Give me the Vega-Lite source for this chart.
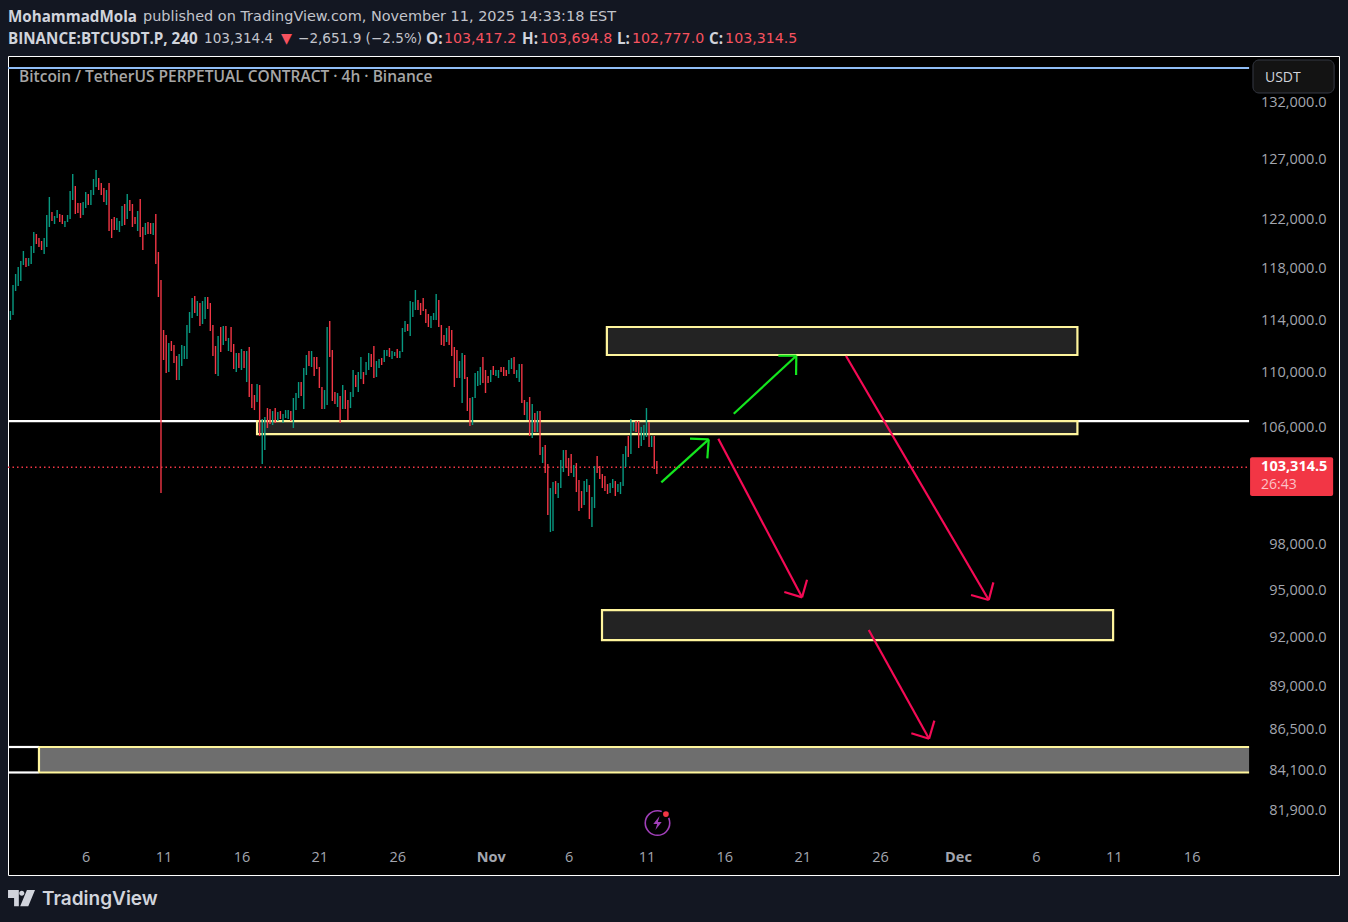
{
"$schema":"https://vega.github.io/schema/vega-lite/v6.json",
"width":1331,"height":819,
"autosize":"none",
"padding":{"left":8,"top":56,"right":9,"bottom":47},
"background":"#131722",
"config":{"view":{"fill":"#000000","stroke":"#ffffff","strokeWidth":1},"text":{"font":"Open Sans"}},
"encoding":{
"x":{"field":"t","type":"temporal","title":null,
"scale":{"type":"utc","domain":["2025-10-01T00:17Z","2025-12-25T11:02Z"]},
"axis":{"orient":"bottom","values":["2025-10-06T00:00Z","2025-10-11T00:00Z","2025-10-16T00:00Z","2025-10-21T00:00Z","2025-10-26T00:00Z","2025-11-01T00:00Z","2025-11-06T00:00Z","2025-11-11T00:00Z","2025-11-16T00:00Z","2025-11-21T00:00Z","2025-11-26T00:00Z","2025-12-01T00:00Z","2025-12-06T00:00Z","2025-12-11T00:00Z","2025-12-16T00:00Z"],
"labelExpr":"utcdate(datum.value)==1 ? utcFormat(datum.value,'%b') : utcFormat(datum.value,'%-d')",
"labelFontWeight":{"expr":"utcdate(datum.value)==1 ? 'bold' : 'normal'"},
"labelPadding":-18,"labelBaseline":"middle","labelFont":"Open Sans","labelFontSize":14.5,"labelColor":"#a3a6af","labelOverlap":false,"labelFlush":false,"labelBound":false,"domain":false,"ticks":false,"grid":false}},
"y":{"field":"p","type":"quantitative","title":null,
"scale":{"type":"log","domain":[78390,136233],"nice":false,"zero":false},
"axis":{"orient":"right","values":[132000,127000,122000,118000,114000,110000,106000,98000,95000,92000,89000,86500,84100,81900],"format":",.1f","labelAlign":"right","labelBaseline":"middle","labelPadding":-13,"labelFont":"Open Sans","labelFontSize":14.5,"labelColor":"#a3a6af","labelOverlap":false,"labelFlush":false,"labelBound":false,"domain":false,"ticks":false,"grid":false}}
},
"layer":[
{"data":{"values":[{"t":"2025-10-01T00:17Z","t2":"2025-12-19T16:30Z","p":135136}]},"mark":{"type":"rule","color":"#8fbcf5","strokeWidth":2},"encoding":{"x2":{"field":"t2"}}},
{"data":{"values":[{"t":"2025-10-01T00:17Z","t2":"2025-12-19T16:30Z","p":106489},{"t":"2025-10-01T00:17Z","t2":"2025-10-03T00:00Z","p":85462},{"t":"2025-10-01T00:17Z","t2":"2025-10-03T00:00Z","p":84005}]},"mark":{"type":"rule","color":"#ffffff","strokeWidth":2.2},"encoding":{"x2":{"field":"t2"}}},
{"data":{"values":[{"t":"2025-10-01T00:17Z","t2":"2025-12-19T18:00Z","p":103314.5}]},"mark":{"type":"rule","color":"#f23645","strokeWidth":1.4,"strokeDash":[1.5,3],"yOffset":1.3},"encoding":{"x2":{"field":"t2"}}},
{"data":{"values":[{"t":"2025-10-03T00:00Z","t2":"2025-12-19T16:30Z","p":85462,"p2":84005}]},"mark":{"type":"rect","color":"#6e6e6e"},"encoding":{"x2":{"field":"t2"},"y2":{"field":"p2"}}},
{"data":{"values":[{"t":"2025-10-03T00:00Z","t2":"2025-12-19T16:30Z","p":85462},{"t":"2025-10-03T00:00Z","t2":"2025-12-19T16:30Z","p":84005}]},"mark":{"type":"rule","color":"#fff59d","strokeWidth":2.2},"encoding":{"x2":{"field":"t2"}}},
{"data":{"values":[{"t":"2025-10-03T00:00Z","p":85462,"p2":84005}]},"mark":{"type":"rule","color":"#fff59d","strokeWidth":2.2},"encoding":{"y2":{"field":"p2"}}},
{"data":{"values":[{"t":"2025-11-08T11:00Z","t2":"2025-12-08T16:00Z","p":113464,"p2":111340},{"t":"2025-10-17T00:00Z","t2":"2025-12-08T16:00Z","p":106489,"p2":105559},{"t":"2025-11-08T03:30Z","t2":"2025-12-10T23:00Z","p":93738,"p2":91859}]},"mark":{"type":"rect","fill":"#232323","stroke":"#fff59d","strokeWidth":2.2},"encoding":{"x2":{"field":"t2"},"y2":{"field":"p2"}}},
{"data":{"values":[
{"t":"2025-10-01T04:00Z","p":114700,"p2":114000,"d":"u"},{"t":"2025-10-01T08:00Z","p":116730,"p2":114390,"d":"u"},{"t":"2025-10-01T12:00Z","p":117597,"p2":116254,"d":"u"},{"t":"2025-10-01T16:00Z","p":118150,"p2":116647,"d":"u"},{"t":"2025-10-01T20:00Z","p":118632,"p2":117041,"d":"u"},
{"t":"2025-10-02T00:00Z","p":119436,"p2":118312,"d":"u"},{"t":"2025-10-02T04:00Z","p":118873,"p2":118150,"d":"d"},{"t":"2025-10-02T08:00Z","p":118873,"p2":118230,"d":"u"},{"t":"2025-10-02T12:00Z","p":119840,"p2":118392,"d":"u"},{"t":"2025-10-02T16:00Z","p":120977,"p2":119275,"d":"u"},{"t":"2025-10-02T20:00Z","p":120814,"p2":120003,"d":"d"},
{"t":"2025-10-03T00:00Z","p":120488,"p2":119758,"d":"d"},{"t":"2025-10-03T04:00Z","p":120244,"p2":119516,"d":"d"},{"t":"2025-10-03T08:00Z","p":120488,"p2":119194,"d":"u"},{"t":"2025-10-03T12:00Z","p":122373,"p2":119758,"d":"u"},{"t":"2025-10-03T16:00Z","p":123869,"p2":121386,"d":"u"},{"t":"2025-10-03T20:00Z","p":122620,"p2":121878,"d":"d"},
{"t":"2025-10-04T00:00Z","p":122290,"p2":121632,"d":"u"},{"t":"2025-10-04T04:00Z","p":122786,"p2":122124,"d":"u"},{"t":"2025-10-04T08:00Z","p":122455,"p2":121796,"d":"d"},{"t":"2025-10-04T12:00Z","p":122373,"p2":121632,"d":"d"},{"t":"2025-10-04T16:00Z","p":121878,"p2":121386,"d":"u"},{"t":"2025-10-04T20:00Z","p":122373,"p2":121796,"d":"u"},
{"t":"2025-10-05T00:00Z","p":124371,"p2":122042,"d":"u"},{"t":"2025-10-05T04:00Z","p":125806,"p2":123618,"d":"u"},{"t":"2025-10-05T08:00Z","p":124792,"p2":122455,"d":"d"},{"t":"2025-10-05T12:00Z","p":123368,"p2":122538,"d":"d"},{"t":"2025-10-05T16:00Z","p":123368,"p2":122124,"d":"d"},{"t":"2025-10-05T20:00Z","p":123451,"p2":122373,"d":"u"},
{"t":"2025-10-06T00:00Z","p":124287,"p2":122952,"d":"u"},{"t":"2025-10-06T04:00Z","p":124120,"p2":123202,"d":"d"},{"t":"2025-10-06T08:00Z","p":124455,"p2":123202,"d":"u"},{"t":"2025-10-06T12:00Z","p":125382,"p2":124036,"d":"u"},{"t":"2025-10-06T16:00Z","p":126146,"p2":124708,"d":"u"},{"t":"2025-10-06T20:00Z","p":125467,"p2":124455,"d":"d"},
{"t":"2025-10-07T00:00Z","p":125044,"p2":124036,"d":"d"},{"t":"2025-10-07T04:00Z","p":124624,"p2":123451,"d":"d"},{"t":"2025-10-07T08:00Z","p":124455,"p2":123202,"d":"u"},{"t":"2025-10-07T12:00Z","p":125044,"p2":121058,"d":"d"},{"t":"2025-10-07T16:00Z","p":122042,"p2":120488,"d":"d"},{"t":"2025-10-07T20:00Z","p":122207,"p2":121140,"d":"d"},
{"t":"2025-10-08T00:00Z","p":122124,"p2":121140,"d":"u"},{"t":"2025-10-08T04:00Z","p":121878,"p2":120977,"d":"u"},{"t":"2025-10-08T08:00Z","p":123119,"p2":121468,"d":"u"},{"t":"2025-10-08T12:00Z","p":123285,"p2":121550,"d":"d"},{"t":"2025-10-08T16:00Z","p":124120,"p2":122042,"d":"u"},{"t":"2025-10-08T20:00Z","p":123618,"p2":122703,"d":"d"},
{"t":"2025-10-09T00:00Z","p":123285,"p2":121386,"d":"d"},{"t":"2025-10-09T04:00Z","p":122207,"p2":121632,"d":"d"},{"t":"2025-10-09T08:00Z","p":122703,"p2":121058,"d":"u"},{"t":"2025-10-09T12:00Z","p":123702,"p2":120570,"d":"d"},{"t":"2025-10-09T16:00Z","p":121386,"p2":119516,"d":"d"},{"t":"2025-10-09T20:00Z","p":121714,"p2":120732,"d":"u"},
{"t":"2025-10-10T00:00Z","p":121796,"p2":120814,"d":"d"},{"t":"2025-10-10T04:00Z","p":121714,"p2":120814,"d":"d"},{"t":"2025-10-10T08:00Z","p":121714,"p2":120732,"d":"u"},{"t":"2025-10-10T12:00Z","p":122455,"p2":118392,"d":"d"},{"t":"2025-10-10T16:00Z","p":119355,"p2":115784,"d":"d"},{"t":"2025-10-10T20:00Z","p":117120,"p2":101438,"d":"d"},
{"t":"2025-10-11T00:00Z","p":113234,"p2":110964,"d":"d"},{"t":"2025-10-11T04:00Z","p":112853,"p2":109995,"d":"d"},{"t":"2025-10-11T08:00Z","p":112245,"p2":110069,"d":"u"},{"t":"2025-10-11T12:00Z","p":112396,"p2":111641,"d":"d"},{"t":"2025-10-11T16:00Z","p":112094,"p2":110740,"d":"d"},{"t":"2025-10-11T20:00Z","p":111265,"p2":109476,"d":"d"},
{"t":"2025-10-12T00:00Z","p":111415,"p2":109476,"d":"u"},{"t":"2025-10-12T04:00Z","p":112094,"p2":110516,"d":"u"},{"t":"2025-10-12T08:00Z","p":112019,"p2":111039,"d":"u"},{"t":"2025-10-12T12:00Z","p":113617,"p2":111039,"d":"u"},{"t":"2025-10-12T16:00Z","p":114618,"p2":113005,"d":"u"},{"t":"2025-10-12T20:00Z","p":115706,"p2":114155,"d":"u"},
{"t":"2025-10-13T00:00Z","p":115862,"p2":114541,"d":"d"},{"t":"2025-10-13T04:00Z","p":115472,"p2":114310,"d":"u"},{"t":"2025-10-13T08:00Z","p":115317,"p2":113541,"d":"d"},{"t":"2025-10-13T12:00Z","p":115472,"p2":113694,"d":"u"},{"t":"2025-10-13T16:00Z","p":115784,"p2":114078,"d":"u"},{"t":"2025-10-13T20:00Z","p":115784,"p2":114850,"d":"d"},
{"t":"2025-10-14T00:00Z","p":115317,"p2":113158,"d":"d"},{"t":"2025-10-14T04:00Z","p":113617,"p2":111265,"d":"d"},{"t":"2025-10-14T08:00Z","p":112019,"p2":109921,"d":"d"},{"t":"2025-10-14T12:00Z","p":112777,"p2":109773,"d":"u"},{"t":"2025-10-14T16:00Z","p":113464,"p2":111566,"d":"d"},{"t":"2025-10-14T20:00Z","p":113541,"p2":112094,"d":"u"},
{"t":"2025-10-15T00:00Z","p":113541,"p2":112396,"d":"d"},{"t":"2025-10-15T04:00Z","p":112624,"p2":111641,"d":"u"},{"t":"2025-10-15T08:00Z","p":113464,"p2":111566,"d":"d"},{"t":"2025-10-15T12:00Z","p":112170,"p2":110292,"d":"d"},{"t":"2025-10-15T16:00Z","p":111490,"p2":110069,"d":"u"},{"t":"2025-10-15T20:00Z","p":111490,"p2":110366,"d":"d"},
{"t":"2025-10-16T00:00Z","p":111791,"p2":110218,"d":"u"},{"t":"2025-10-16T04:00Z","p":111641,"p2":110366,"d":"d"},{"t":"2025-10-16T08:00Z","p":111641,"p2":109328,"d":"u"},{"t":"2025-10-16T12:00Z","p":111942,"p2":108228,"d":"d"},{"t":"2025-10-16T16:00Z","p":109181,"p2":107427,"d":"d"},{"t":"2025-10-16T20:00Z","p":108374,"p2":107282,"d":"d"},
{"t":"2025-10-17T00:00Z","p":109181,"p2":107864,"d":"u"},{"t":"2025-10-17T04:00Z","p":109107,"p2":105417,"d":"d"},{"t":"2025-10-17T08:00Z","p":106633,"p2":103443,"d":"u"},{"t":"2025-10-17T12:00Z","p":106777,"p2":104425,"d":"u"},{"t":"2025-10-17T16:00Z","p":107427,"p2":105987,"d":"d"},{"t":"2025-10-17T20:00Z","p":107355,"p2":106274,"d":"d"},
{"t":"2025-10-18T00:00Z","p":107210,"p2":106203,"d":"u"},{"t":"2025-10-18T04:00Z","p":107427,"p2":106346,"d":"d"},{"t":"2025-10-18T08:00Z","p":107138,"p2":106489,"d":"u"},{"t":"2025-10-18T12:00Z","p":107210,"p2":106633,"d":"d"},{"t":"2025-10-18T16:00Z","p":106994,"p2":106346,"d":"u"},{"t":"2025-10-18T20:00Z","p":107282,"p2":106705,"d":"u"},
{"t":"2025-10-19T00:00Z","p":107282,"p2":106633,"d":"u"},{"t":"2025-10-19T04:00Z","p":107210,"p2":106489,"d":"d"},{"t":"2025-10-19T08:00Z","p":108155,"p2":105987,"d":"u"},{"t":"2025-10-19T12:00Z","p":108520,"p2":107282,"d":"u"},{"t":"2025-10-19T16:00Z","p":109328,"p2":108155,"d":"u"},{"t":"2025-10-19T20:00Z","p":109328,"p2":108301,"d":"d"},
{"t":"2025-10-20T00:00Z","p":110366,"p2":107355,"d":"u"},{"t":"2025-10-20T04:00Z","p":111340,"p2":109847,"d":"u"},{"t":"2025-10-20T08:00Z","p":111641,"p2":110516,"d":"d"},{"t":"2025-10-20T12:00Z","p":111641,"p2":110441,"d":"u"},{"t":"2025-10-20T16:00Z","p":111190,"p2":109773,"d":"d"},{"t":"2025-10-20T20:00Z","p":111190,"p2":110292,"d":"d"},
{"t":"2025-10-21T00:00Z","p":110441,"p2":108887,"d":"d"},{"t":"2025-10-21T04:00Z","p":108961,"p2":107355,"d":"d"},{"t":"2025-10-21T08:00Z","p":108740,"p2":107355,"d":"u"},{"t":"2025-10-21T12:00Z","p":113464,"p2":107645,"d":"u"},{"t":"2025-10-21T16:00Z","p":113924,"p2":111190,"d":"d"},{"t":"2025-10-21T20:00Z","p":111716,"p2":107936,"d":"d"},
{"t":"2025-10-22T00:00Z","p":108593,"p2":107718,"d":"d"},{"t":"2025-10-22T04:00Z","p":108520,"p2":107500,"d":"u"},{"t":"2025-10-22T08:00Z","p":108301,"p2":106346,"d":"d"},{"t":"2025-10-22T12:00Z","p":109107,"p2":107355,"d":"u"},{"t":"2025-10-22T16:00Z","p":108740,"p2":107355,"d":"d"},{"t":"2025-10-22T20:00Z","p":108009,"p2":106561,"d":"d"},
{"t":"2025-10-23T00:00Z","p":108593,"p2":107427,"d":"u"},{"t":"2025-10-23T04:00Z","p":110218,"p2":108228,"d":"u"},{"t":"2025-10-23T08:00Z","p":109847,"p2":108961,"d":"d"},{"t":"2025-10-23T12:00Z","p":110069,"p2":108593,"d":"u"},{"t":"2025-10-23T16:00Z","p":111190,"p2":109550,"d":"u"},{"t":"2025-10-23T20:00Z","p":110069,"p2":109181,"d":"d"},
{"t":"2025-10-24T00:00Z","p":110815,"p2":109847,"d":"u"},{"t":"2025-10-24T04:00Z","p":111490,"p2":110218,"d":"u"},{"t":"2025-10-24T08:00Z","p":111415,"p2":110441,"d":"d"},{"t":"2025-10-24T12:00Z","p":112019,"p2":109624,"d":"d"},{"t":"2025-10-24T16:00Z","p":110890,"p2":109699,"d":"u"},{"t":"2025-10-24T20:00Z","p":111039,"p2":110366,"d":"u"},
{"t":"2025-10-25T00:00Z","p":111115,"p2":110590,"d":"d"},{"t":"2025-10-25T04:00Z","p":111716,"p2":110815,"d":"u"},{"t":"2025-10-25T08:00Z","p":111716,"p2":111265,"d":"u"},{"t":"2025-10-25T12:00Z","p":111866,"p2":111190,"d":"d"},{"t":"2025-10-25T16:00Z","p":111641,"p2":111039,"d":"u"},{"t":"2025-10-25T20:00Z","p":111566,"p2":111265,"d":"u"},
{"t":"2025-10-26T00:00Z","p":111791,"p2":111115,"d":"d"},{"t":"2025-10-26T04:00Z","p":111641,"p2":111115,"d":"u"},{"t":"2025-10-26T08:00Z","p":113387,"p2":111566,"d":"u"},{"t":"2025-10-26T12:00Z","p":113924,"p2":113081,"d":"u"},{"t":"2025-10-26T16:00Z","p":113694,"p2":113158,"d":"d"},{"t":"2025-10-26T20:00Z","p":115472,"p2":112777,"d":"u"},
{"t":"2025-10-27T00:00Z","p":115394,"p2":114232,"d":"u"},{"t":"2025-10-27T04:00Z","p":116332,"p2":114773,"d":"u"},{"t":"2025-10-27T08:00Z","p":115550,"p2":114773,"d":"d"},{"t":"2025-10-27T12:00Z","p":115317,"p2":114387,"d":"d"},{"t":"2025-10-27T16:00Z","p":115706,"p2":114696,"d":"d"},{"t":"2025-10-27T20:00Z","p":114850,"p2":113770,"d":"d"},
{"t":"2025-10-28T00:00Z","p":114464,"p2":113464,"d":"d"},{"t":"2025-10-28T04:00Z","p":114310,"p2":113387,"d":"u"},{"t":"2025-10-28T08:00Z","p":114541,"p2":114001,"d":"u"},{"t":"2025-10-28T12:00Z","p":116020,"p2":114001,"d":"u"},{"t":"2025-10-28T16:00Z","p":115550,"p2":113464,"d":"d"},{"t":"2025-10-28T20:00Z","p":113617,"p2":112094,"d":"d"},
{"t":"2025-10-29T00:00Z","p":112853,"p2":112019,"d":"d"},{"t":"2025-10-29T04:00Z","p":113387,"p2":112321,"d":"u"},{"t":"2025-10-29T08:00Z","p":113541,"p2":112094,"d":"d"},{"t":"2025-10-29T12:00Z","p":113234,"p2":111265,"d":"d"},{"t":"2025-10-29T16:00Z","p":111942,"p2":108961,"d":"d"},{"t":"2025-10-29T20:00Z","p":111716,"p2":109624,"d":"d"},
{"t":"2025-10-30T00:00Z","p":110890,"p2":109624,"d":"u"},{"t":"2025-10-30T04:00Z","p":111490,"p2":107791,"d":"u"},{"t":"2025-10-30T08:00Z","p":111340,"p2":109550,"d":"d"},{"t":"2025-10-30T12:00Z","p":109699,"p2":107210,"d":"d"},{"t":"2025-10-30T16:00Z","p":108155,"p2":106130,"d":"d"},{"t":"2025-10-30T20:00Z","p":108228,"p2":106203,"d":"u"},
{"t":"2025-10-31T00:00Z","p":109995,"p2":108155,"d":"u"},{"t":"2025-10-31T04:00Z","p":110144,"p2":109035,"d":"u"},{"t":"2025-10-31T08:00Z","p":110441,"p2":109107,"d":"u"},{"t":"2025-10-31T12:00Z","p":111190,"p2":109255,"d":"d"},{"t":"2025-10-31T16:00Z","p":110218,"p2":108520,"d":"d"},{"t":"2025-10-31T20:00Z","p":109773,"p2":109255,"d":"d"},
{"t":"2025-11-01T00:00Z","p":110218,"p2":109328,"d":"u"},{"t":"2025-11-01T04:00Z","p":110516,"p2":109847,"d":"d"},{"t":"2025-11-01T08:00Z","p":110218,"p2":109773,"d":"u"},{"t":"2025-11-01T12:00Z","p":110218,"p2":109624,"d":"u"},{"t":"2025-11-01T16:00Z","p":110441,"p2":110069,"d":"d"},{"t":"2025-11-01T20:00Z","p":110441,"p2":109773,"d":"d"},
{"t":"2025-11-02T00:00Z","p":110218,"p2":109773,"d":"d"},{"t":"2025-11-02T04:00Z","p":110964,"p2":109921,"d":"u"},{"t":"2025-11-02T08:00Z","p":111115,"p2":110292,"d":"u"},{"t":"2025-11-02T12:00Z","p":111190,"p2":109921,"d":"d"},{"t":"2025-11-02T16:00Z","p":110218,"p2":109624,"d":"u"},{"t":"2025-11-02T20:00Z","p":110665,"p2":109328,"d":"u"},
{"t":"2025-11-03T00:00Z","p":110665,"p2":107791,"d":"d"},{"t":"2025-11-03T04:00Z","p":108009,"p2":106920,"d":"d"},{"t":"2025-11-03T08:00Z","p":107864,"p2":106561,"d":"u"},{"t":"2025-11-03T12:00Z","p":108228,"p2":105417,"d":"d"},{"t":"2025-11-03T16:00Z","p":107718,"p2":105275,"d":"u"},{"t":"2025-11-03T20:00Z","p":107066,"p2":105702,"d":"d"},
{"t":"2025-11-04T00:00Z","p":107210,"p2":105702,"d":"u"},{"t":"2025-11-04T04:00Z","p":107210,"p2":104073,"d":"d"},{"t":"2025-11-04T08:00Z","p":104637,"p2":103513,"d":"u"},{"t":"2025-11-04T12:00Z","p":104778,"p2":102817,"d":"d"},{"t":"2025-11-04T16:00Z","p":103443,"p2":99943,"d":"d"},{"t":"2025-11-04T20:00Z","p":101781,"p2":98803,"d":"u"},
{"t":"2025-11-05T00:00Z","p":102194,"p2":98870,"d":"u"},{"t":"2025-11-05T04:00Z","p":102263,"p2":101370,"d":"d"},{"t":"2025-11-05T08:00Z","p":102125,"p2":101097,"d":"u"},{"t":"2025-11-05T12:00Z","p":103722,"p2":101781,"d":"u"},{"t":"2025-11-05T16:00Z","p":104425,"p2":102886,"d":"u"},{"t":"2025-11-05T20:00Z","p":104425,"p2":103164,"d":"d"},
{"t":"2025-11-06T00:00Z","p":103862,"p2":102609,"d":"d"},{"t":"2025-11-06T04:00Z","p":104143,"p2":102817,"d":"d"},{"t":"2025-11-06T08:00Z","p":103373,"p2":102540,"d":"u"},{"t":"2025-11-06T12:00Z","p":103513,"p2":101507,"d":"d"},{"t":"2025-11-06T16:00Z","p":102332,"p2":100213,"d":"d"},{"t":"2025-11-06T20:00Z","p":101575,"p2":100416,"d":"d"},
{"t":"2025-11-07T00:00Z","p":102263,"p2":100621,"d":"u"},{"t":"2025-11-07T04:00Z","p":102401,"p2":101507,"d":"u"},{"t":"2025-11-07T08:00Z","p":101987,"p2":99673,"d":"d"},{"t":"2025-11-07T12:00Z","p":101165,"p2":99137,"d":"u"},{"t":"2025-11-07T16:00Z","p":103303,"p2":100416,"d":"u"},{"t":"2025-11-07T20:00Z","p":104002,"p2":102817,"d":"d"},
{"t":"2025-11-08T00:00Z","p":103303,"p2":102401,"d":"d"},{"t":"2025-11-08T04:00Z","p":102747,"p2":101781,"d":"d"},{"t":"2025-11-08T08:00Z","p":102609,"p2":101575,"d":"d"},{"t":"2025-11-08T12:00Z","p":102056,"p2":101370,"d":"d"},{"t":"2025-11-08T16:00Z","p":102125,"p2":101438,"d":"u"},{"t":"2025-11-08T20:00Z","p":102401,"p2":101781,"d":"u"},
{"t":"2025-11-09T00:00Z","p":102263,"p2":101233,"d":"d"},{"t":"2025-11-09T04:00Z","p":102056,"p2":101507,"d":"u"},{"t":"2025-11-09T08:00Z","p":102194,"p2":101370,"d":"u"},{"t":"2025-11-09T12:00Z","p":104143,"p2":101919,"d":"u"},{"t":"2025-11-09T16:00Z","p":104707,"p2":103234,"d":"u"},{"t":"2025-11-09T20:00Z","p":105417,"p2":103932,"d":"d"},
{"t":"2025-11-10T00:00Z","p":106633,"p2":104143,"d":"u"},{"t":"2025-11-10T04:00Z","p":106418,"p2":105773,"d":"u"},{"t":"2025-11-10T08:00Z","p":106489,"p2":105702,"d":"d"},{"t":"2025-11-10T12:00Z","p":106489,"p2":104566,"d":"d"},{"t":"2025-11-10T16:00Z","p":106059,"p2":104707,"d":"u"},{"t":"2025-11-10T20:00Z","p":106203,"p2":105132,"d":"u"},
{"t":"2025-11-11T00:00Z","p":107427,"p2":105346,"d":"u"},{"t":"2025-11-11T04:00Z","p":106418,"p2":104637,"d":"d"},{"t":"2025-11-11T08:00Z","p":105417,"p2":104637,"d":"u"},{"t":"2025-11-11T12:00Z","p":105417,"p2":103094,"d":"d"},{"t":"2025-11-11T16:00Z","p":103652,"p2":102747,"d":"d"}
]},"mark":{"type":"rule","strokeWidth":1.4},"encoding":{"y2":{"field":"p2"},"color":{"field":"d","type":"nominal","legend":null,"scale":{"domain":["u","d"],"range":["#089981","#f23645"]}}}},
{"data":{"values":[
{"t":"2025-11-11T22:54Z","p":102173,"t2":"2025-11-14T23:56Z","p2":105182},
{"t":"2025-11-13T19:06Z","p":105225,"t2":"2025-11-14T23:56Z","p2":105182},
{"t":"2025-11-14T21:48Z","p":103841,"t2":"2025-11-14T23:56Z","p2":105182},
{"t":"2025-11-16T14:30Z","p":107016,"t2":"2025-11-20T14:54Z","p2":111287},
{"t":"2025-11-19T11:12Z","p":111287,"t2":"2025-11-20T14:54Z","p2":111287},
{"t":"2025-11-20T14:30Z","p":109847,"t2":"2025-11-20T14:54Z","p2":111287}
]},"mark":{"type":"rule","color":"#14e61e","strokeWidth":2.2},"encoding":{"x2":{"field":"t2"},"y2":{"field":"p2"}}},
{"data":{"values":[
{"t":"2025-11-15T14:42Z","p":105225,"t2":"2025-11-20T23:42Z","p2":94544},
{"t":"2025-11-19T20:24Z","p":94882,"t2":"2025-11-20T23:42Z","p2":94544},
{"t":"2025-11-21T07:24Z","p":95672,"t2":"2025-11-20T23:42Z","p2":94544},
{"t":"2025-11-23T19:30Z","p":111265,"t2":"2025-12-02T23:24Z","p2":94371},
{"t":"2025-12-01T20:06Z","p":94690,"t2":"2025-12-02T23:24Z","p2":94371},
{"t":"2025-12-03T06:30Z","p":95505,"t2":"2025-12-02T23:24Z","p2":94371},
{"t":"2025-11-25T06:30Z","p":92480,"t2":"2025-11-29T03:24Z","p2":85942},
{"t":"2025-11-28T00:06Z","p":86257,"t2":"2025-11-29T03:24Z","p2":85942},
{"t":"2025-11-29T11:36Z","p":86994,"t2":"2025-11-29T03:24Z","p2":85942}
]},"mark":{"type":"rule","color":"#f50a55","strokeWidth":2.2},"encoding":{"x2":{"field":"t2"},"y2":{"field":"p2"}}},
{"data":{"values":[{"t":"2025-12-19T18:00Z","t2":"2025-12-25T02:00Z","p":103914,"p2":101235}]},"mark":{"type":"rect","fill":"#f23645","cornerRadius":2},"encoding":{"x2":{"field":"t2"},"y2":{"field":"p2"}}},
{"data":{"values":[{"t":"2025-12-19T22:30Z","t2":"2025-12-25T03:30Z","p":135867,"p2":132875}]},"mark":{"type":"rect","fill":"#131313","stroke":"#363a45","strokeWidth":1,"cornerRadius":6},"encoding":{"x2":{"field":"t2"},"y2":{"field":"p2"}}},
{"data":{"values":[{"t":"2025-11-11T17:00Z","p":81187}]},"mark":{"type":"point","shape":"circle","size":600,"filled":false,"stroke":"#a03fb8","strokeWidth":1.6,"opacity":1}},
{"data":{"values":[{"t":"2025-11-11T17:00Z","p":81187}]},"mark":{"type":"point","shape":"M0.3,-1L-0.6,0.15L-0.05,0.15L-0.3,1L0.6,-0.15L0.05,-0.15Z","size":196,"filled":true,"fill":"#a03fb8","opacity":1}},
{"data":{"values":[{"t":"2025-11-12T06:00Z","p":81684}]},"mark":{"type":"point","shape":"circle","size":60,"filled":true,"fill":"#f23645","stroke":"#000000","strokeWidth":2,"opacity":1}},
{"data":{"values":[{"t":"2025-10-01T21:07Z","p":77178}]},"mark":{"type":"point","shape":"M-1,-0.6L-0.2,-0.6L-0.2,0.6L-0.55,0.6L-0.55,0L-1,0ZM0.4,-0.6L1,-0.6L0.5,0.6L-0.1,0.6ZM0.02,-0.55A0.19,0.19,0,1,1,0.02,-0.17A0.19,0.19,0,1,1,0.02,-0.55Z","size":729,"filled":true,"fill":"#d1d4dc","opacity":1}},
{"data":{"values":[{"t":"2025-10-03T04:39Z","p":77178,"label":"TradingView"}]},"mark":{"type":"text","align":"left","baseline":"middle","font":"Inter","fontSize":19,"fontWeight":600,"color":"#d1d4dc","dy":1},"encoding":{"text":{"field":"label"}}},
{"data":{"values":[
{"t":"2025-10-01T00:15Z","p":139962,"label":"MohammadMola"},
{"t":"2025-10-01T00:15Z","p":137898,"label":"BINANCE:BTCUSDT.P, 240"},
{"t":"2025-10-27T20:24Z","p":137898,"label":"O:"},
{"t":"2025-11-03T00:15Z","p":137898,"label":"H:"},
{"t":"2025-11-09T02:30Z","p":137898,"label":"L:"},
{"t":"2025-11-15T00:30Z","p":137898,"label":"C:"}
]},"mark":{"type":"text","align":"left","baseline":"middle","fontSize":15.2,"fontWeight":"bold","color":"#d1d4dc","dy":1},"encoding":{"text":{"field":"label"}}},
{"data":{"values":[
{"t":"2025-10-09T16:20Z","p":139962,"label":"published on TradingView.com, November 11, 2025 14:33:18 EST"}
]},"mark":{"type":"text","align":"left","baseline":"middle","font":"DejaVu Sans","fontSize":14.45,"color":"#c2c4cb","dy":1},"encoding":{"text":{"field":"label"}}},
{"data":{"values":[
{"t":"2025-10-13T14:17Z","p":137898,"label":"103,314.4"},
{"t":"2025-10-19T15:06Z","p":137898,"label":"−2,651.9 (−2.5%)"}
]},"mark":{"type":"text","align":"left","baseline":"middle","font":"DejaVu Sans","fontSize":13.6,"color":"#c2c4cb","dy":1},"encoding":{"text":{"field":"label"}}},
{"data":{"values":[
{"t":"2025-10-18T13:00Z","p":137898,"label":"▼"},
{"t":"2025-10-29T00:00Z","p":137898,"label":"103,417.2"},
{"t":"2025-11-04T04:00Z","p":137898,"label":"103,694.8"},
{"t":"2025-11-10T01:40Z","p":137898,"label":"102,777.0"},
{"t":"2025-11-16T01:10Z","p":137898,"label":"103,314.5"}
]},"mark":{"type":"text","align":"left","baseline":"middle","font":"DejaVu Sans","fontSize":14.2,"color":"#f7525f","dy":1},"encoding":{"text":{"field":"label"}}},
{"data":{"values":[{"t":"2025-10-01T17:15Z","p":134408,"label":"Bitcoin / TetherUS PERPETUAL CONTRACT · 4h · Binance"}]},"mark":{"type":"text","align":"left","baseline":"middle","fontSize":15.5,"fontWeight":600,"color":"#a6a6a6","dy":1},"encoding":{"text":{"field":"label"}}},
{"data":{"values":[{"t":"2025-12-20T17:00Z","p":134350,"label":"USDT"}]},"mark":{"type":"text","align":"left","baseline":"middle","fontSize":14,"color":"#d1d4dc","dy":1},"encoding":{"text":{"field":"label"}}},
{"data":{"values":[{"t":"2025-12-20T11:00Z","p":103235,"label":"103,314.5"}]},"mark":{"type":"text","align":"left","baseline":"middle","fontSize":14.5,"fontWeight":"bold","color":"#ffffff"},"encoding":{"text":{"field":"label"}}},
{"data":{"values":[{"t":"2025-12-20T11:00Z","p":102000,"label":"26:43"}]},"mark":{"type":"text","align":"left","baseline":"middle","fontSize":14,"color":"#fcc2c7"},"encoding":{"text":{"field":"label"}}}
]
}
